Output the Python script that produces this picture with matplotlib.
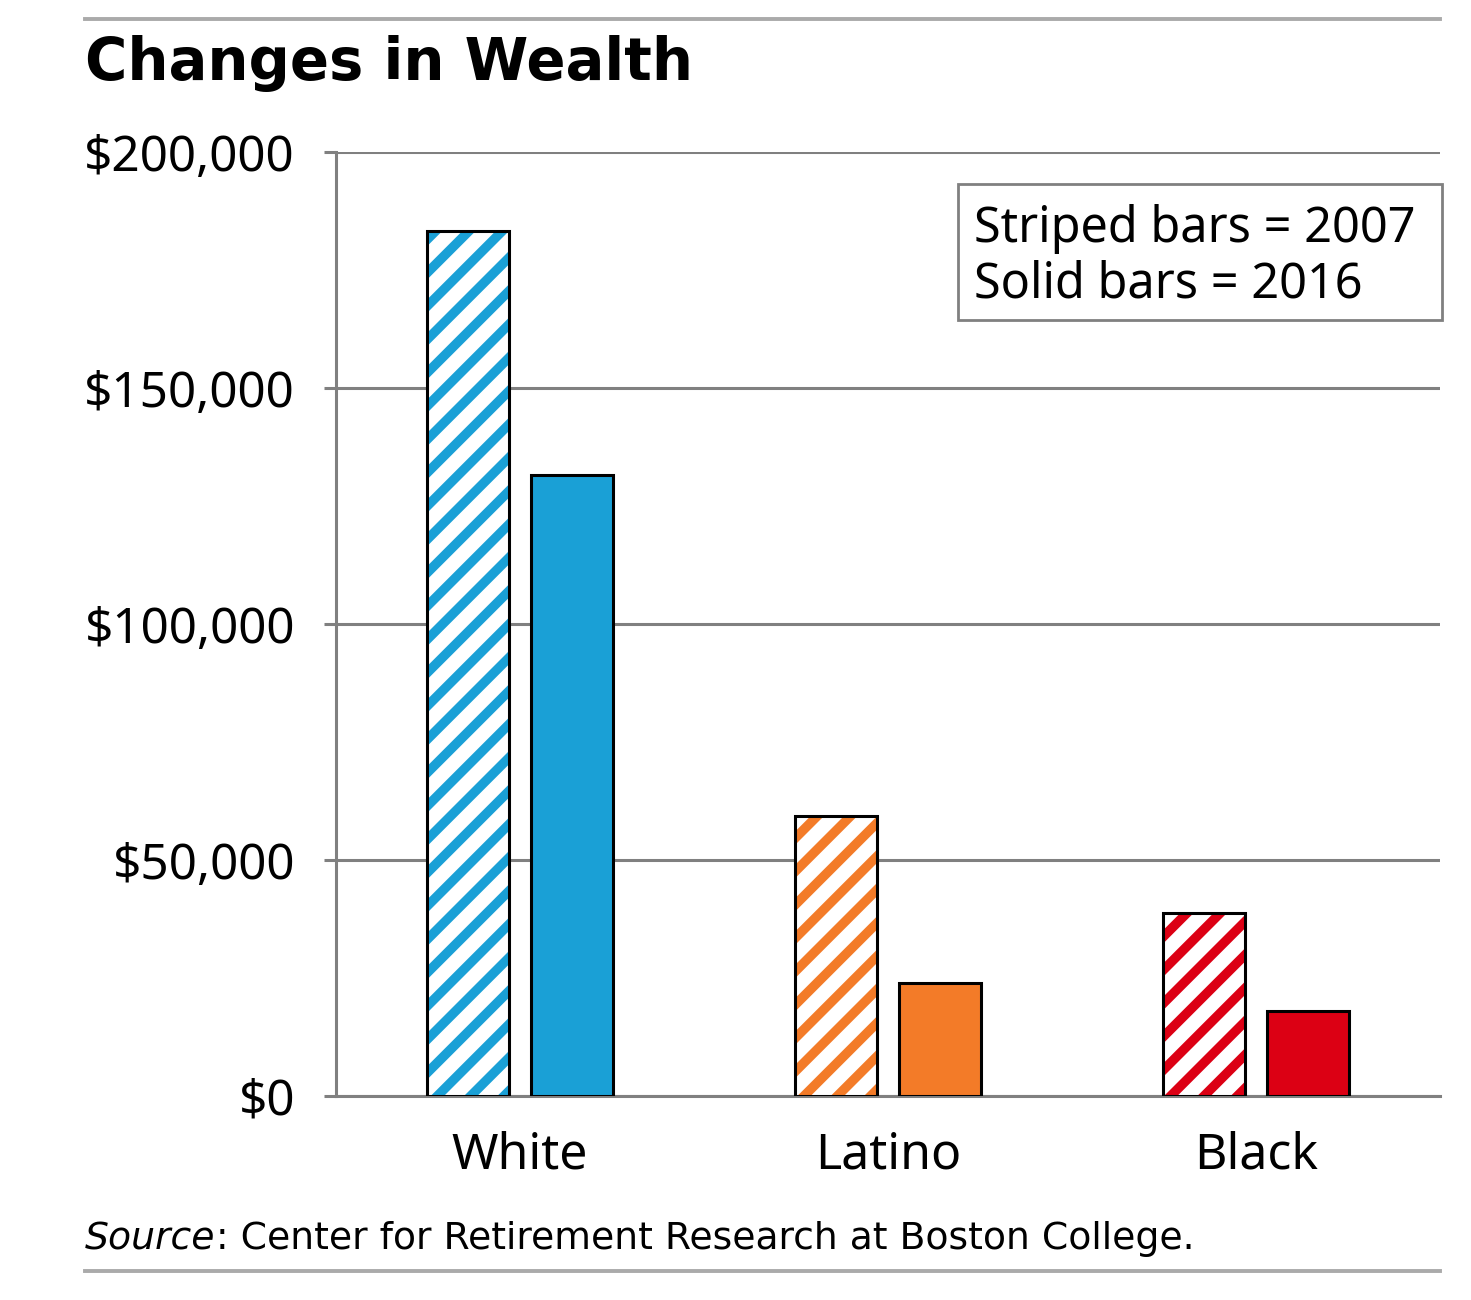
import matplotlib
matplotlib.use("Agg")
import matplotlib.pyplot as plt
from matplotlib.patches import Rectangle
from matplotlib.ticker import FuncFormatter

# data
groups = ["White", "Latino", "Black"]
wealth_2007 = [183300, 59300, 38800]
wealth_2016 = [131600, 23900, 18000]
colors = ["#1AA0D6", "#F37B28", "#DC0014"]
yticks = [0, 50000, 100000, 150000, 200000]

plt.rcParams["hatch.linewidth"] = 3.4
tick_font = "Noto Sans"

W, H = 1471, 1300
fig = plt.figure(figsize=(W / 200, H / 200), dpi=200)
ax = fig.add_axes([336 / W, 1 - 1096 / H, (1440 - 336) / W, (1096 - 152) / H])

x = list(range(len(groups)))
width = 0.223
off = 0.142
grey = "#808080"

for i in x:
    # striped bar: hatch drawn in colour, outline in black on top
    ax.bar(i - off, wealth_2007[i], width, color="white", edgecolor=colors[i],
           hatch="//", linewidth=0, zorder=3)
    ax.bar(i - off, wealth_2007[i], width, fill=False, edgecolor="black",
           linewidth=1.1, zorder=4)
    ax.bar(i + off, wealth_2016[i], width, color=colors[i], edgecolor="black",
           linewidth=1.1, zorder=4)

ax.set_xlim(-0.5, 2.5)
ax.set_ylim(0, 200000)
ax.set_yticks(yticks)
ax.yaxis.set_major_formatter(FuncFormatter(lambda v, p: f"${v:,.0f}"))
ax.set_xticks(x)
ax.set_xticklabels(groups)

ax.grid(axis="y", color=grey, linewidth=1.1, zorder=0)
ax.set_axisbelow(True)
for s in ["top", "right"]:
    ax.spines[s].set_visible(False)
for s in ["left", "bottom"]:
    ax.spines[s].set_color(grey)
    ax.spines[s].set_linewidth(1.1)

ax.tick_params(axis="y", length=4.3, width=1.1, color=grey, pad=10.5,
               labelsize=17.8)
ax.tick_params(axis="x", length=0, pad=12.5, labelsize=18)
for lab in ax.get_xticklabels() + ax.get_yticklabels():
    lab.set_fontfamily(tick_font)

# note box in the upper right
fig.add_artist(Rectangle((958 / W, 1 - 320 / H), (1442 - 958) / W,
                         (320 - 184) / H, transform=fig.transFigure,
                         facecolor="white", edgecolor=grey, linewidth=1.0,
                         zorder=5))
fig.text(974 / W, 1 - 242 / H, "Striped bars = 2007", fontsize=17.5,
         fontfamily=tick_font, ha="left", va="baseline", zorder=6)
fig.text(974 / W, 1 - 297 / H, "Solid bars = 2016", fontsize=17.5,
         fontfamily=tick_font, ha="left", va="baseline", zorder=6)

# title and source
fig.text(85 / W, 1 - 80 / H, "Changes in Wealth", fontsize=20.8,
         fontweight="bold", fontfamily="DejaVu Sans", ha="left", va="baseline")
src = fig.text(85 / W, 1 - 1249 / H, "Source", fontsize=13.6,
               fontstyle="italic", fontfamily="DejaVu Sans",
               ha="left", va="baseline")
fig.canvas.draw()
bb = src.get_window_extent()
fig.text(bb.x1 / fig.bbox.width, 1 - 1249 / H,
         ": Center for Retirement Research at Boston College.",
         fontsize=13.6, fontfamily="DejaVu Sans", ha="left", va="baseline")

# thin rules at the top and bottom
for yy in [1 - 19 / H, 1 - 1271 / H]:
    fig.add_artist(plt.Line2D([85 / W, 1440 / W], [yy, yy],
                              color="#AAAAAA", linewidth=1.4))

fig.savefig("out.png", dpi=200)
